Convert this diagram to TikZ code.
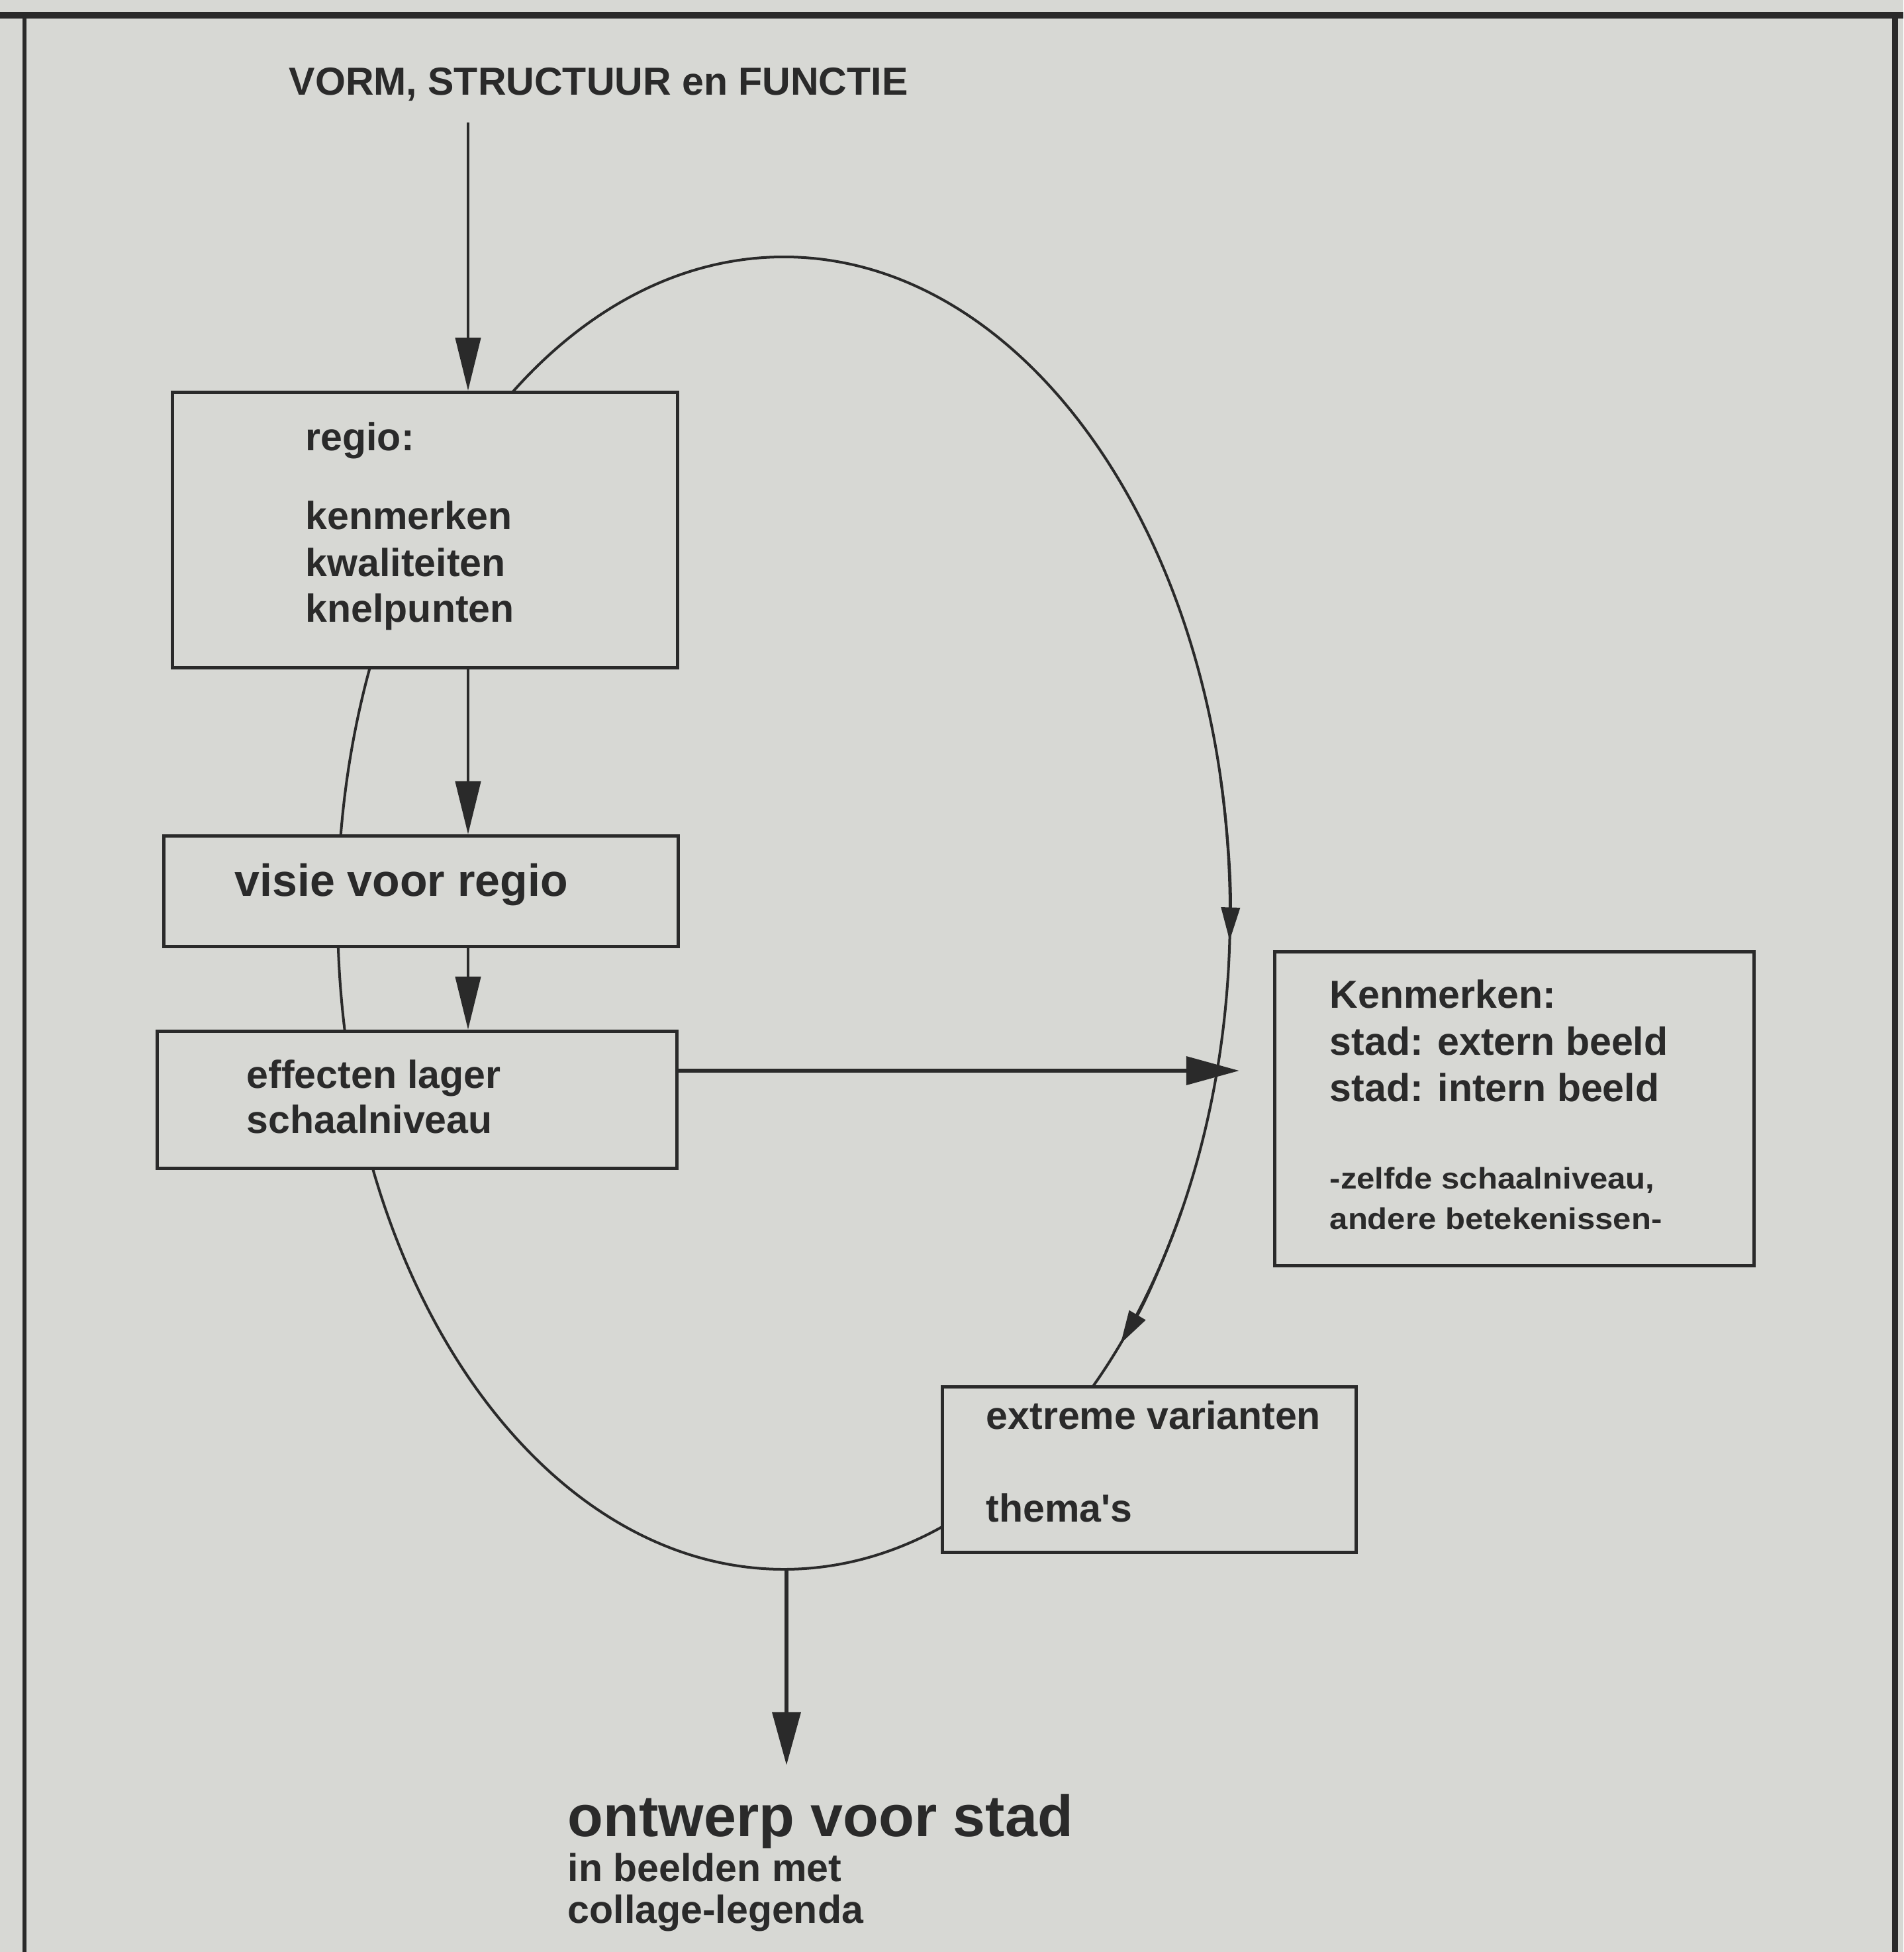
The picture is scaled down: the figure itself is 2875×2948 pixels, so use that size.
\documentclass[tikz,border=0pt]{standalone}
\usepackage{fontspec}
\usepackage{graphicx}
\setmainfont{Liberation Sans}[Ligatures=TeXOff]
\usetikzlibrary{arrows.meta,calc}
\definecolor{paper}{HTML}{D7D8D4}
\definecolor{ink}{HTML}{2A2A2A}
\begin{document}
\begin{tikzpicture}[x=0.01cm,y=-0.01cm,
  box/.style={draw=ink, fill=paper, line width=0.05cm, rectangle, inner sep=0pt, anchor=north west},
  lbl/.style={anchor=base west, inner sep=0pt, text=ink, font=\fontsize{16.79pt}{20pt}\selectfont\bfseries},
  lblbig/.style={lbl, font=\fontsize{19.35pt}{23pt}\selectfont\bfseries},
  lblhuge/.style={lbl, font=\fontsize{25.04pt}{30pt}\selectfont\bfseries},
  lblsmall/.style={lbl, font=\fontsize{12.8pt}{15pt}\selectfont\bfseries},
  flow/.style={draw=ink, line width=0.045cm, -{Triangle[length=0.8cm, width=0.38cm]}},
  flowthick/.style={flow, line width=0.065cm, -{Triangle[length=0.8cm, width=0.42cm]}},
  cycle/.style={draw=ink, line width=0.04cm},
  cycletip/.style={cycle, -{Triangle[length=0.5cm, width=0.28cm]}}
]
% page and frame
\useasboundingbox (0,0) rectangle (2875,2948);
\fill[paper] (0,0) rectangle (2875,2948);
\draw[ink, line width=0.1cm] (0,23) -- (2875,23);
\draw[ink, line width=0.05cm] (37,23) -- (37,2960);
\draw[ink, line width=0.09cm] (2862,23) -- (2862,2960);

% the design cycle (drawn first, boxes cover it)
\coordinate (ctr) at (1184,1379);
\draw[cycle] (ctr) ellipse [x radius=674, y radius=991];
\draw[cycletip] ($(ctr)+(-12:674 and 991)$) arc [start angle=-12, end angle=2.4, x radius=674, y radius=991];
\draw[cycletip] ($(ctr)+(27:674 and 991)$) arc [start angle=27, end angle=41, x radius=674, y radius=991];

% boxes
\node[box, minimum width=7.63cm, minimum height=4.16cm] (regio) at (258,590) {};
\node[box, minimum width=7.77cm, minimum height=1.67cm] (visie) at (245,1260) {};
\node[box, minimum width=7.85cm, minimum height=2.07cm] (effecten) at (235,1555) {};
\node[box, minimum width=7.24cm, minimum height=4.74cm] (kenmerken) at (1923,1435) {};
\node[box, minimum width=6.25cm, minimum height=2.50cm] (extreme) at (1421,2092) {};

% texts
\node[lbl] (title) at (436,143) {VORM, STRUCTUUR en FUNCTIE};
\node[lbl] (regiohead) at (461,680) {regio:};
\node[lbl] (regio1) at (461,799) {kenmerken};
\node[lbl] (regio2) at (461,870) {kwaliteiten};
\node[lbl] (regio3) at (461,939) {knelpunten};
\node[lblbig] (visietext) at (354,1353) {visie voor regio};
\node[lbl] (eff1) at (372,1643) {effecten lager};
\node[lbl] (eff2) at (372,1711) {schaalniveau};
\node[lbl] (ken1) at (2008,1522) {Kenmerken:};
\node[lbl] (ken2) at (2008,1593) {stad: extern beeld};
\node[lbl] (ken3) at (2008,1663) {stad: intern beeld};
\node[lblsmall] (ken4) at (2008,1795) {\scalebox{1.09}[1]{-zelfde schaalniveau,}};
\node[lblsmall] (ken5) at (2008,1856) {\scalebox{1.09}[1]{andere betekenissen-}};
\node[lbl] (ext1) at (1489,2158) {extreme varianten};
\node[lbl] (ext2) at (1489,2298) {thema's};
\node[lblhuge] (result) at (857,2773) {ontwerp voor stad};
\node[lbl] (result2) at (857,2841) {in beelden met};
\node[lbl] (result3) at (857,2904) {collage-legenda};

% connectors
\coordinate (src) at (707,185);
\draw[flow] (src) -- (src |- regio.north);
\draw[flow] (regio.south -| src) -- (visie.north -| src);
\draw[flow] (visie.south -| src) -- (effecten.north -| src);
\coordinate (probe) at (1872,1617);
\draw[flowthick] (effecten.east |- probe) -- (probe);
\coordinate (low) at (1188,2370);
\coordinate (out) at (1188,2666);
\draw[flowthick] (low) -- (out);
\end{tikzpicture}
\end{document}
